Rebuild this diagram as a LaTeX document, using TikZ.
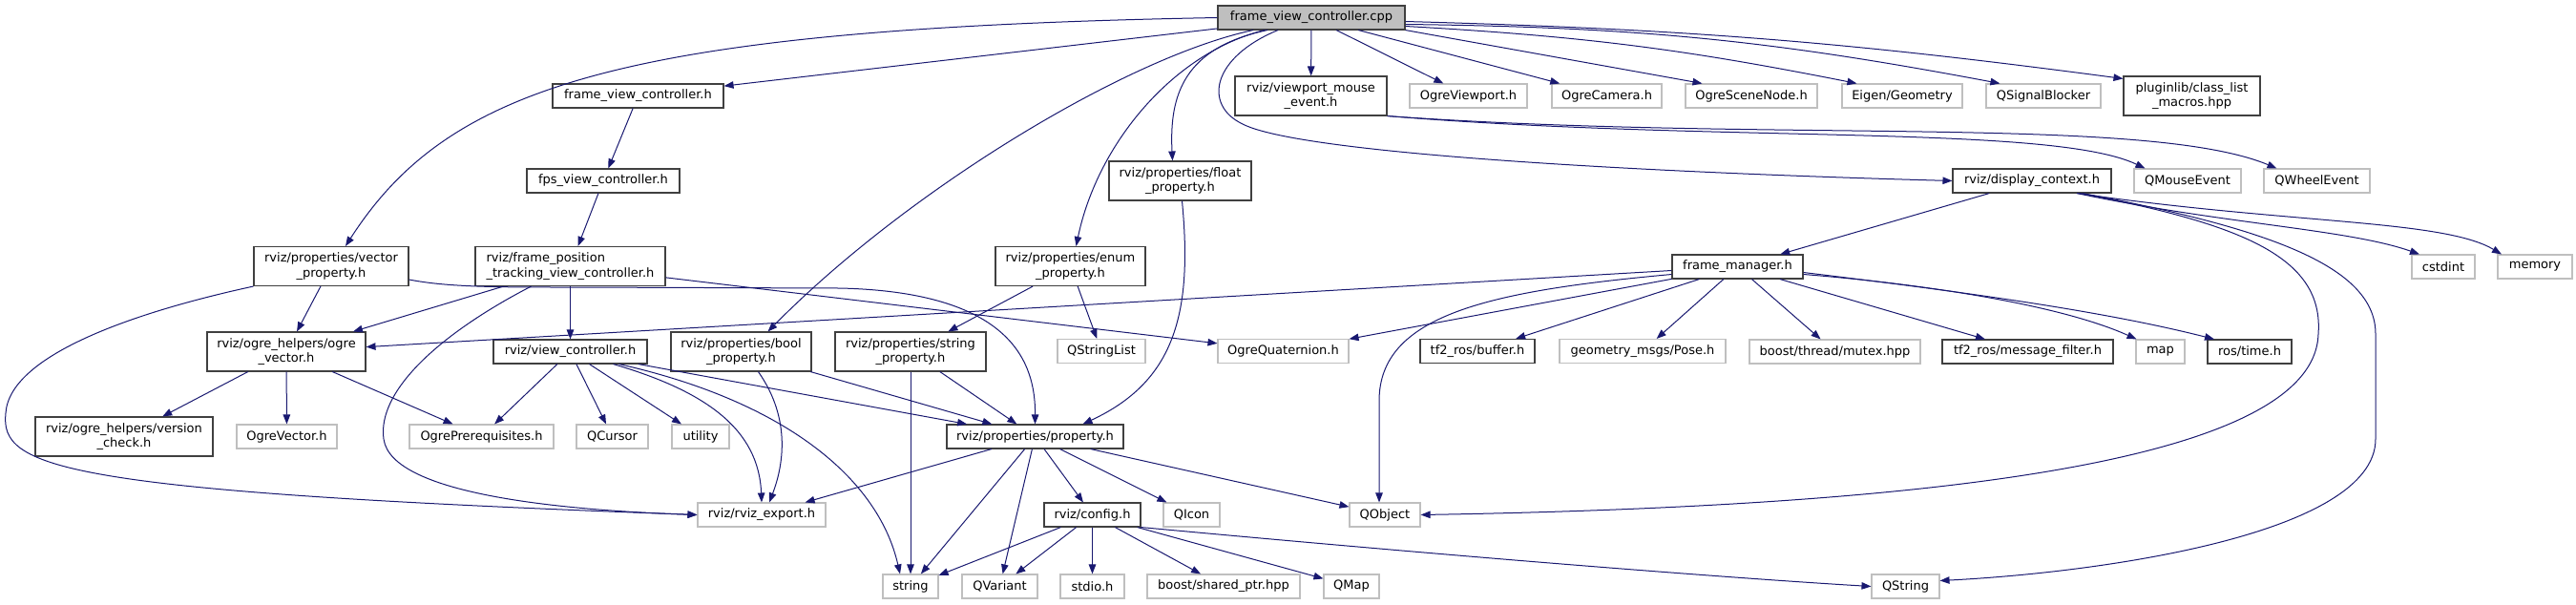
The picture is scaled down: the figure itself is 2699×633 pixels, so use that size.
\documentclass[tikz,border=0pt]{standalone}
\usepackage{fontspec}
\setmainfont{DejaVu Sans}
\usetikzlibrary{arrows.meta}
\definecolor{edgeblue}{HTML}{191970}
\definecolor{extgray}{HTML}{BFBFBF}
\definecolor{docgray}{HTML}{404040}

\begin{document}
\begin{tikzpicture}[x=1pt,y=-1pt]
\tikzstyle{box}=[rectangle,draw=docgray,line width=1.1pt,inner sep=0pt,minimum height=25pt,align=center,font=\fontsize{13}{15.5}\selectfont,fill=white]
\tikzstyle{ext}=[box,draw=extgray]
\tikzstyle{root}=[box,fill=extgray,minimum width=196pt]
\tikzstyle{two}=[minimum height=41pt]
\tikzstyle{edge}=[draw=edgeblue,line width=1pt,-{Triangle[length=10pt,width=7.5pt]}]
\useasboundingbox (0,0) rectangle (2699,633);

% row 0 and 1
\node[root] at(1374, 18.5) (cpp) {frame\_view\_controller.cpp};
\node[box,minimum width=179pt] at(668.5, 100.5) (fvch) {frame\_view\_controller.h};
\node[box,minimum width=159pt,two] at(1373.5, 100.5) (vpmouse) {rviz/viewport\_mouse\\\_event.h};
\node[ext,minimum width=123pt] at(1538.5, 100.5) (ogreview) {OgreViewport.h};
\node[ext,minimum width=115pt] at(1683.5, 100.5) (ogrecam) {OgreCamera.h};
\node[ext,minimum width=138pt] at(1835, 100.5) (ogrescene) {OgreSceneNode.h};
\node[ext,minimum width=126pt] at(1993, 100.5) (eigen) {Eigen/Geometry};
\node[ext,minimum width=120pt] at(2141, 100.5) (qsigblock) {QSignalBlocker};
\node[box,minimum width=143pt,two] at(2296.5, 100.5) (pluginlib) {pluginlib/class\_list\\\_macros.hpp};
% row 2 and 3
\node[box,minimum width=160pt] at(632, 189.5) (fps) {fps\_view\_controller.h};
\node[box,minimum width=149pt,two] at(1236.5, 189.5) (floatprop) {rviz/properties/float\\\_property.h};
\node[box,minimum width=166pt] at(2129, 189.5) (dispctx) {rviz/display\_context.h};
\node[ext,minimum width=112pt] at(2292, 189.5) (qmouse) {QMouseEvent};
\node[ext,minimum width=111pt] at(2427.5, 189.5) (qwheel) {QWheelEvent};
\node[box,minimum width=162pt,two] at(347, 279) (vecprop) {rviz/properties/vector\\\_property.h};
\node[box,minimum width=199pt,two,align=left] at(597.5, 279) (fptvc) {rviz/frame\_position\\\_tracking\_view\_controller.h};
\node[box,minimum width=157pt,two] at(1121.5, 279) (enumprop) {rviz/properties/enum\\\_property.h};
\node[box,minimum width=137pt] at(1820.5, 279.5) (framemgr) {frame\_manager.h};
\node[ext,minimum width=66pt] at(2560, 279.5) (cstdint) {cstdint};
\node[ext,minimum width=78pt] at(2656, 279.5) (memory) {memory};
% row 4
\node[box,minimum width=166pt,two] at(300, 368.5) (ogrevec) {rviz/ogre\_helpers/ogre\\\_vector.h};
\node[box,minimum width=161pt] at(597.5, 368.5) (viewctl) {rviz/view\_controller.h};
\node[box,minimum width=147pt,two] at(776.5, 368.5) (boolprop) {rviz/properties/bool\\\_property.h};
\node[box,minimum width=158pt,two] at(954, 368.5) (strprop) {rviz/properties/string\\\_property.h};
\node[ext,minimum width=92pt] at(1154, 368) (qstrlist) {QStringList};
\node[ext,minimum width=137pt] at(1344.5, 368) (ogrequat) {OgreQuaternion.h};
\node[box,minimum width=120pt] at(1548, 368) (tfbuf) {tf2\_ros/buffer.h};
\node[ext,minimum width=174pt] at(1721, 368) (pose) {geometry\_msgs/Pose.h};
\node[ext,minimum width=179pt] at(1922.5, 368.5) (mutex) {boost/thread/mutex.hpp};
\node[box,minimum width=179pt] at(2124.5, 368.5) (msgfilt) {tf2\_ros/message\_filter.h};
\node[ext,minimum width=51pt] at(2263.5, 368.5) (map) {map};
\node[box,minimum width=88pt] at(2357, 368.5) (rostime) {ros/time.h};
% row 5
\node[box,minimum width=186pt,two] at(130, 457.5) (vercheck) {rviz/ogre\_helpers/version\\\_check.h};
\node[ext,minimum width=105pt] at(300.5, 457.5) (ogrevector) {OgreVector.h};
\node[ext,minimum width=151pt] at(504.5, 457.5) (prereq) {OgrePrerequisites.h};
\node[ext,minimum width=75pt] at(641.5, 457.5) (qcursor) {QCursor};
\node[ext,minimum width=60pt] at(734, 457.5) (utility) {utility};
\node[box,minimum width=185pt] at(1084.5, 457.5) (property) {rviz/properties/property.h};
% row 6 and 7
\node[ext,minimum width=134pt] at(798, 539.5) (rvizexp) {rviz/rviz\_export.h};
\node[box,minimum width=101pt] at(1144.5, 539.5) (config) {rviz/config.h};
\node[ext,minimum width=59pt] at(1248.5, 539.5) (qicon) {QIcon};
\node[ext,minimum width=74pt] at(1451, 539.5) (qobject) {QObject};
\node[ext,minimum width=58pt] at(954, 614.5) (string) {string};
\node[ext,minimum width=79pt] at(1047.5, 614.5) (qvariant) {QVariant};
\node[ext,minimum width=67pt] at(1144.5, 614.5) (stdio) {stdio.h};
\node[ext,minimum width=160pt] at(1282, 614.5) (sharedptr) {boost/shared\_ptr.hpp};
\node[ext,minimum width=58pt] at(1416, 614.5) (qmap) {QMap};
\node[ext,minimum width=71pt] at(1996.5, 614.5) (qstring) {QString};

% includes of the source file
\draw[edge] (cpp) -- (fvch);
\draw[edge] (cpp.west) .. controls (650,30) and (470,90) .. ([xshift=15pt]vecprop.north);
\draw[edge] ([xshift=-61pt]cpp.south) .. controls (1180,60) and (950,200) .. ([xshift=28pt]boolprop.north);
\draw[edge] ([xshift=-49pt]cpp.south) .. controls (1230,55) and (1150,150) .. ([xshift=6pt]enumprop.north);
\draw[edge] ([xshift=-46pt]cpp.south) .. controls (1240,50) and (1225,100) .. ([xshift=-8pt]floatprop.north);
\draw[edge] ([xshift=-35pt]cpp.south) .. controls (1270,60) and (1260,110) .. (1302,130) .. controls (1360,160) and (1700,180) .. (dispctx.west);
\draw[edge] (cpp) -- (vpmouse);
\draw[edge] (cpp) -- (ogreview);
\draw[edge] (cpp) -- (ogrecam);
\draw[edge] (cpp.south east) -- ([xshift=18pt]ogrescene.north west);
\draw[edge] ([yshift=-9pt]cpp.east) to[bend left=4] ([xshift=16pt]eigen.north west);
\draw[edge] ([yshift=-7pt]cpp.east) to[bend left=5] ([xshift=15pt]qsigblock.north west);
\draw[edge] ([yshift=-4pt]cpp.east) to[bend left=3] ([yshift=-3pt]pluginlib.north west);

% headers
\draw[edge] (fvch) -- (fps);
\draw[edge] (fps) -- (fptvc);
\draw[edge] (vecprop) -- (ogrevec);
\draw[edge] (vecprop.south west) .. controls (150,325) and (10,370) .. (6,433) .. controls (0,490) and (60,515) .. (rvizexp.west);
\draw[edge] ([yshift=-14pt]vecprop.east) .. controls (470,301) and (520,301) .. (600,301) -- (880,302) .. controls (1060,306) and (1085,380) .. (property.north);
\draw[edge] (fptvc) -- (ogrevec);
\draw[edge] (fptvc) -- (viewctl);
\draw[edge] (fptvc) -- (ogrequat);
\draw[edge] ([xshift=-41pt]fptvc.south) .. controls (460,350) and (395,410) .. (402,460) .. controls (410,520) and (600,535) .. (rvizexp.west);
\draw[edge] (ogrevec) -- (vercheck);
\draw[edge] (ogrevec) -- (ogrevector);
\draw[edge] (ogrevec) -- (prereq);
\draw[edge] (viewctl) -- (prereq);
\draw[edge] (viewctl) -- (qcursor);
\draw[edge] (viewctl) -- (utility);
\draw[edge] ([xshift=45pt]viewctl.south) .. controls (740,410) and (795,450) .. (rvizexp.north);
\draw[edge] ([xshift=51pt]viewctl.south) .. controls (820,420) and (920,500) .. ([xshift=-11pt]string.north);
\draw[edge] (viewctl) -- (property);
\draw[edge] ([xshift=18pt]boolprop.south) .. controls (830,440) and (820,490) .. ([xshift=8pt]rvizexp.north);
\draw[edge] (boolprop) -- (property);
\draw[edge] (strprop) -- (string);
\draw[edge] (strprop) -- (property);
\draw[edge] (enumprop) -- (strprop);
\draw[edge] (enumprop) -- (qstrlist);
\draw[edge] ([xshift=2pt]floatprop.south) .. controls (1250,330) and (1230,400) .. ([xshift=50pt]property.north);
\draw[edge] (property) -- (rvizexp);
\draw[edge] (property) -- (string);
\draw[edge] (property) -- (qvariant);
\draw[edge] (property) -- (config);
\draw[edge] (property) -- (qicon);
\draw[edge] (property) -- (qobject);
\draw[edge] (config) -- (string);
\draw[edge] (config) -- (qvariant);
\draw[edge] (config) -- (stdio);
\draw[edge] (config) -- (sharedptr);
\draw[edge] (config) -- (qmap);
\draw[edge] (config.south east) .. controls (1600,590) and (1850,608) .. (qstring.west);
\draw[edge] (vpmouse.south east) .. controls (1800,150) and (2150,130) .. ([xshift=12pt]qmouse.north west);
\draw[edge] (vpmouse.south east) .. controls (1850,150) and (2250,120) .. ([xshift=14pt]qwheel.north west);
\draw[edge] (dispctx) -- (framemgr);
\draw[edge] ([xshift=47pt]dispctx.south) .. controls (2330,235) and (2460,240) .. ([xshift=-25pt]cstdint.north);
\draw[edge] ([xshift=47pt]dispctx.south) .. controls (2400,235) and (2560,230) .. ([xshift=-35pt]memory.north);
\draw[edge] ([xshift=50pt]dispctx.south) .. controls (2350,235) and (2435,270) .. (2429,350) .. controls (2425,480) and (2050,530) .. (qobject.east);
\draw[edge] ([xshift=53pt]dispctx.south) .. controls (2380,240) and (2489,280) .. (2489,350) -- (2489,460) .. controls (2489,560) and (2200,600) .. ([yshift=6pt]qstring.east);
\draw[edge] (framemgr) -- (ogrevec);
\draw[edge] (framemgr) -- (ogrequat);
\draw[edge] ([yshift=-8pt]framemgr.west) .. controls (1560,305) and (1445,330) .. (1445,420) -- ([xshift=-6pt]qobject.north);
\draw[edge] (framemgr) -- (tfbuf);
\draw[edge] (framemgr) -- (pose);
\draw[edge] (framemgr) -- (mutex);
\draw[edge] (framemgr) -- (msgfilt);
\draw[edge] ([yshift=-8pt]framemgr.east) .. controls (2020,298) and (2160,320) .. ([xshift=-25pt]map.north);
\draw[edge] ([yshift=-6pt]framemgr.east) .. controls (2050,305) and (2200,325) .. ([xshift=-37pt]rostime.north);
\end{tikzpicture}
\end{document}
